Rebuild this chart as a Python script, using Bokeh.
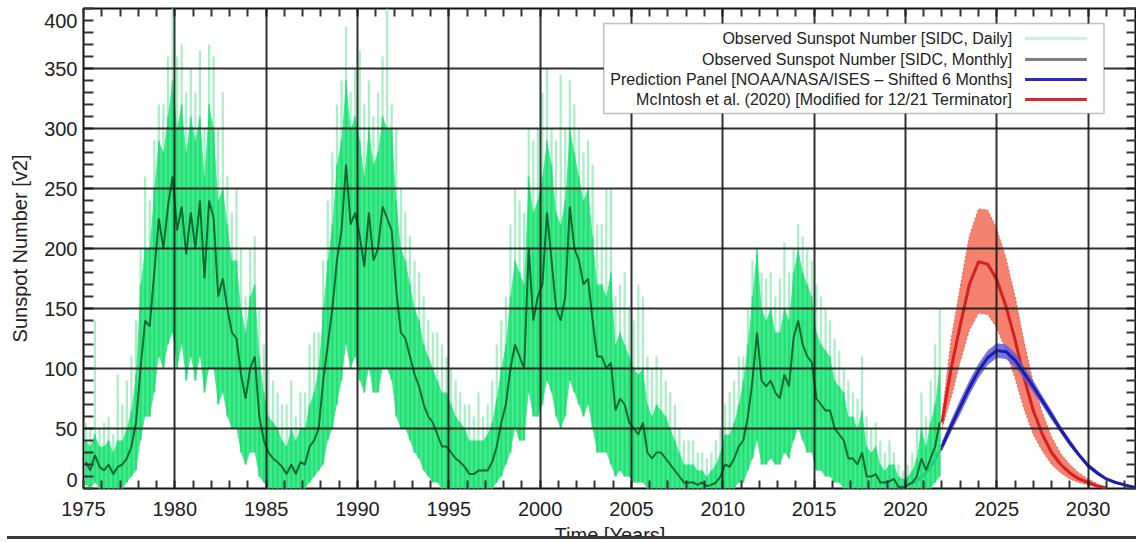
import numpy as np
from bokeh.plotting import figure
from bokeh.models import (Range1d, SingleIntervalTicker, FixedTicker, LinearAxis, Label,
                          BoxAnnotation, Div)
from bokeh.layouts import column
from bokeh.embed import file_html
from bokeh.resources import INLINE

# ---------------- observed data (quarterly samples, 1975.125 .. 2021.875) ----
obs_start = 1975.125
# monthly-mean sunspot number (dark line)
monthly = [
    22, 15, 28, 18,   15, 20, 12, 18,   20, 25, 35, 55,   100, 140, 135, 180,
    225, 200, 235, 260,   215, 235, 195, 230,   200, 240, 175, 240,   225, 160, 175, 150,
    130, 125, 95, 75,   100, 110, 60, 40,   30, 25, 22, 18,   12, 20, 12, 22,
    20, 35, 40, 50,   90, 120, 150, 190,   215, 270, 220, 230,   210, 185, 230, 190,
    200, 235, 225, 215,   165, 130, 125, 110,   95, 85, 70, 60,   55, 45, 35, 35,
    30, 25, 22, 18,   12, 12, 15, 15,   15, 22, 35, 55,   70, 100, 120, 110,
    100, 200, 140, 160,   170, 230, 190, 150,   140, 160, 235, 200,   190, 170, 175, 140,
    110, 110, 100, 105,   65, 75, 70, 55,   50, 45, 55, 30,   25, 30, 30, 25,
    20, 15, 10, 5,   5, 5, 3, 5,   2, 3, 5, 10,   20, 18, 25, 35,
    40, 60, 90, 130,   90, 85, 90, 80,   75, 95, 85, 125,   140, 120, 110, 105,
    75, 70, 65, 65,   50, 45, 40, 25,   25, 20, 30, 10,   10, 12, 5, 5,
    6, 8, 1, 1,   3, 5, 10, 25,   15, 25, 35, 55,
]
# daily values: lower edge of the daily scatter
daily_low = [
    3, 0, 5, 0,   0, 0, 0, 0,   0, 5, 10, 15,   40, 60, 60, 80,
    110, 100, 120, 130,   100, 120, 90, 110,   90, 110, 80, 100,   100, 70, 80, 60,
    50, 50, 30, 20,   30, 30, 10, 5,   0, 0, 0, 0,   0, 0, 0, 0,
    0, 5, 10, 15,   20, 40, 50, 70,   90, 120, 100, 110,   90, 80, 100, 80,
    80, 100, 100, 90,   60, 50, 50, 40,   30, 25, 15, 10,   5, 5, 0, 0,
    0, 0, 0, 0,   0, 0, 0, 0,   0, 0, 5, 10,   20, 30, 50, 40,
    40, 80, 60, 60,   70, 90, 80, 60,   50, 60, 90, 80,   70, 60, 70, 50,
    30, 30, 30, 20,   10, 15, 10, 10,   5, 5, 5, 0,   0, 0, 0, 0,
    0, 0, 0, 0,   0, 0, 0, 0,   0, 0, 0, 0,   0, 0, 0, 5,
    5, 15, 25, 40,   20, 20, 25, 20,   20, 30, 25, 40,   50, 40, 30, 30,
    15, 15, 10, 10,   5, 5, 0, 0,   0, 0, 0, 0,   0, 0, 0, 0,
    0, 0, 0, 0,   0, 0, 0, 0,   0, 0, 5, 10,
]
# daily values: top of the dense part of the scatter
daily_core = [
    40, 35, 45, 35,   35, 40, 30, 40,   40, 50, 65, 95,   170, 200, 200, 250,
    290, 280, 310, 340,   300, 320, 280, 310,   290, 310, 260, 320,   300, 240, 250, 220,
    190, 190, 150, 130,   160, 170, 110, 80,   60, 55, 50, 40,   35, 50, 40, 50,
    50, 70, 80, 100,   150, 190, 220, 270,   290, 340, 300, 310,   290, 260, 300, 270,
    280, 310, 300, 300,   240, 200, 190, 170,   150, 140, 120, 110,   100, 90, 80, 80,
    70, 60, 55, 50,   40, 40, 40, 40,   45, 55, 75, 100,   120, 160, 190, 180,
    170, 260, 230, 240,   260, 290, 270, 230,   220, 240, 300, 280,   260, 240, 250, 210,
    170, 170, 160, 180,   120, 130, 120, 110,   100, 95, 100, 70,   60, 70, 65, 60,
    50, 40, 30, 20,   20, 20, 15, 15,   10, 15, 20, 30,   45, 45, 55, 70,
    90, 120, 160, 200,   150, 140, 150, 130,   130, 150, 140, 180,   200, 180, 170, 160,
    130, 120, 115, 110,   90, 85, 80, 60,   60, 50, 65, 35,   30, 35, 20, 15,
    20, 20, 10, 8,   10, 15, 25, 50,   35, 55, 70, 100,
]
# daily values: highest single-day spikes
daily_peak = [
    55, 50, 140, 50,   55, 60, 45, 95,   70, 90, 110, 140,   200, 260, 240, 290,
    320, 320, 360, 405,   360, 370, 330, 350,   330, 365, 300, 370,   360, 300, 330, 260,
    230, 250, 200, 160,   200, 210, 150, 120,   100, 90, 80, 70,   70, 90, 60, 80,
    80, 120, 130, 130,   190, 240, 280, 320,   340, 385, 330, 350,   365, 320, 340, 310,
    330, 360, 400, 320,   300, 250, 230, 210,   190, 180, 160, 140,   130, 130, 120, 110,
    100, 90, 80, 70,   70, 60, 80, 60,   70, 90, 120, 140,   160, 220, 250, 240,
    230, 300, 290, 300,   330, 350, 300, 290,   345, 300, 340, 320,   300, 280, 290, 270,
    220, 220, 250, 250,   160, 170, 180, 150,   140, 170, 160, 110,   100, 110, 100, 90,
    80, 70, 50, 40,   40, 40, 30, 30,   25, 30, 40, 50,   70, 80, 90, 110,
    110, 150, 190, 195,   180, 175, 180, 160,   175, 205, 180, 200,   220, 210, 200, 190,
    170, 160, 150, 140,   125, 115, 100, 90,   80, 75, 110, 60,   50, 55, 40, 30,
    40, 30, 20, 15,   20, 30, 50, 80,   60, 90, 120, 150,
]
t_obs = obs_start + 0.25 * np.arange(len(monthly))

# ---------------- predictions ----------------
noaa_years = [2019.5, 2020.0, 2020.5, 2021.0, 2021.5, 2022.0, 2022.5, 2023.0, 2023.5,
              2024.0, 2024.5, 2025.0, 2025.5, 2026.0, 2026.5, 2027.0, 2027.5, 2028.0,
              2028.5, 2029.0, 2029.5, 2030.0, 2030.5, 2031.0, 2031.5, 2032.0, 2032.5, 2033.0]
noaa_mid = [1, 2, 5, 11, 21, 35, 52, 68, 84, 98, 109, 115, 114, 107, 96, 85, 73, 61,
            49, 38, 28, 19, 13, 8, 5, 3, 1, 0]
noaa_lo = [0, 1, 4, 9, 18, 31, 47, 62, 78, 92, 103, 109, 108, 101, 91, 80, 69, 57,
           46, 35, 26, 17, 11, 7, 4, 2, 0, 0]
noaa_hi = [2, 3, 7, 13, 24, 39, 57, 74, 90, 104, 115, 121, 120, 113, 101, 90, 77, 65,
           52, 41, 30, 21, 15, 9, 6, 4, 2, 1]
noaa_visible_from = 5   # index of 2022.0: before that the curve lies under the observations

mcintosh_years = [2022.0, 2022.5, 2023.0, 2023.5, 2024.0, 2024.5, 2025.0, 2025.5,
                  2026.0, 2026.5, 2027.0, 2027.5, 2028.0, 2028.5, 2029.0, 2029.5,
                  2030.0, 2030.5, 2031.0]
mcintosh_mid = [55, 100, 136, 170, 189, 187, 174, 152, 124, 92, 65, 45, 30, 20, 13, 8, 5, 2, 0.5]
mcintosh_lo = [50, 76, 106, 132, 146, 145, 134, 115, 92, 66, 45, 31, 20, 13, 8, 5, 3, 1, 0]
mcintosh_hi = [60, 124, 168, 210, 233, 232, 216, 192, 160, 122, 88, 63, 43, 29, 20, 13, 8, 4, 1]

x_ticks_interval = 5
y_ticks_interval = 50
x_start, x_end = 1975, 2032.65
y_start, y_end = 0, 400
# y tick labels; the two end labels sit a little inside the frame, as in the reference
y_label_pos = [7, 50, 100, 150, 200, 250, 300, 350, 390]
y_label_txt = ["0", "50", "100", "150", "200", "250", "300", "350", "400"]

legend_labels = ["Observed Sunspot Number [SIDC, Daily]",
                 "Observed Sunspot Number [SIDC, Monthly]",
                 "Prediction Panel [NOAA/NASA/ISES \u2013 Shifted 6 Months]",
                 "McIntosh et al. (2020) [Modified for 12/21 Terminator]"]
legend_colors = ["#c6f3dc", "#7f7f7f", "#2a2ab8", "#d42a2a"]

FONT = "Liberation Sans"
INK = "#222222"

p = figure(width=1136, height=551, output_backend="svg", toolbar_location=None,
           x_range=Range1d(x_start, x_end), y_range=Range1d(y_start, y_end),
           min_border_left=83, min_border_right=0, min_border_top=8, min_border_bottom=63)
p.background_fill_color = "white"
p.border_fill_color = "white"
p.outline_line_color = "#111111"
p.outline_line_width = 2

# ---------------- glyphs ----------------
nv = noaa_visible_from
p.line(noaa_years[:nv + 1], noaa_mid[:nv + 1], line_color="#1e1ea6", line_width=3)

p.segment(x0=t_obs, y0=daily_low, x1=t_obs, y1=daily_peak,
          line_color="#94eab8", line_width=2.2, line_alpha=0.8)
p.varea(x=t_obs, y1=daily_low, y2=daily_core, fill_color="#26e47a", fill_alpha=0.85)
p.segment(x0=t_obs, y0=daily_low, x1=t_obs, y1=daily_core,
          line_color="#0fdc68", line_width=2, line_alpha=0.6)
p.line(t_obs, monthly, line_color="#0e6a30", line_width=2)

p.varea(x=mcintosh_years, y1=mcintosh_lo, y2=mcintosh_hi, fill_color="#f4826f", fill_alpha=1)
p.line(mcintosh_years, mcintosh_lo, line_color="#e86050", line_width=1, line_dash="2 2")
p.line(mcintosh_years, mcintosh_hi, line_color="#e86050", line_width=1, line_dash="2 2")
p.line(mcintosh_years, mcintosh_mid, line_color="#d42020", line_width=3)

p.varea(x=noaa_years[nv:], y1=noaa_lo[nv:], y2=noaa_hi[nv:], fill_color="#5c5ce6", fill_alpha=0.85)
p.line(noaa_years[nv:], noaa_mid[nv:], line_color="#1e1ea6", line_width=3)

# ---------------- axes / grid ----------------
xt = SingleIntervalTicker(interval=x_ticks_interval, num_minor_ticks=5)
yt = SingleIntervalTicker(interval=y_ticks_interval, num_minor_ticks=5)
minor_x = list(range(1975, 2033))
minor_y = list(range(0, 401, 10))

p.xaxis.ticker = xt
p.yaxis.ticker = FixedTicker(ticks=y_label_pos, minor_ticks=minor_y)
p.yaxis.major_label_overrides = dict(zip(y_label_pos, y_label_txt))
for ax in (p.xaxis[0], p.yaxis[0]):
    ax.axis_line_color = None
    ax.major_tick_in = 0
    ax.major_tick_out = 0
    ax.minor_tick_out = 0
    ax.minor_tick_line_color = "#333333"
    ax.minor_tick_line_width = 2
    ax.major_label_text_font = FONT
    ax.major_label_text_font_size = "20px"
    ax.major_label_text_color = INK
    ax.axis_label_text_font = FONT
    ax.axis_label_text_font_size = "20px"
    ax.axis_label_text_font_style = "normal"
    ax.axis_label_text_color = INK
p.xaxis.minor_tick_in = 8
p.yaxis.minor_tick_in = 10
p.xaxis.major_label_standoff = 13
p.yaxis.major_label_standoff = 6
p.yaxis.axis_label = "Sunspot Number [v2]"
p.yaxis.axis_label_standoff = 10
p.xaxis.axis_label = "Time [Years]"
p.xaxis.axis_label_standoff = 5

top_ax = LinearAxis(ticker=FixedTicker(ticks=[], minor_ticks=minor_x),
                    axis_line_color=None, major_tick_in=0, major_tick_out=0,
                    minor_tick_in=8, minor_tick_out=0, minor_tick_line_color="#333333",
                    minor_tick_line_width=2, major_label_standoff=0)
right_ax = LinearAxis(ticker=FixedTicker(ticks=[], minor_ticks=minor_y),
                      axis_line_color=None, major_tick_in=0, major_tick_out=0,
                      minor_tick_in=10, minor_tick_out=0, minor_tick_line_color="#333333",
                      minor_tick_line_width=2, major_label_standoff=0)
p.add_layout(top_ax, "above")
p.add_layout(right_ax, "right")

for g in (p.xgrid[0], p.ygrid[0]):
    g.grid_line_color = "#1a1a1a"
    g.grid_line_width = 2
    g.grid_line_alpha = 0.9
    g.level = "guide"
p.xgrid.ticker = xt
p.ygrid.ticker = yt

# ---------------- legend (drawn by hand: text right, sample line left) ----------------
p.add_layout(BoxAnnotation(left=2003.48, right=2030.87, bottom=312.5, top=387.5,
                           fill_color="white", fill_alpha=1,
                           line_color="#333333", line_width=1.5))
row_y = [375.0, 357.5, 340.8, 324.2]
for lab, col, yy in zip(legend_labels, legend_colors, row_y):
    p.add_layout(Label(x=2025.85, y=yy, text=lab, text_align="right",
                       text_baseline="middle", text_font=FONT,
                       text_font_size="16px", text_color=INK))
    p.add_layout(BoxAnnotation(left=2026.55, right=2029.93, bottom=yy - 1.3, top=yy + 1.3,
                               fill_color=col, fill_alpha=1, line_color=None))

# dark rule across the bottom of the picture, over the lower half of the x title
bar = Div(text="", width=1129, height=6, margin=(-15, 0, 0, 7),
          styles={"background": "linear-gradient(#3a3a3a 0px, #3a3a3a 3px, #ffffff 3px, #ffffff 6px)",
                  "position": "relative", "z-index": "10"})

layout = column(p, bar, spacing=0)
open("out.html", "w").write(file_html(layout, INLINE))
